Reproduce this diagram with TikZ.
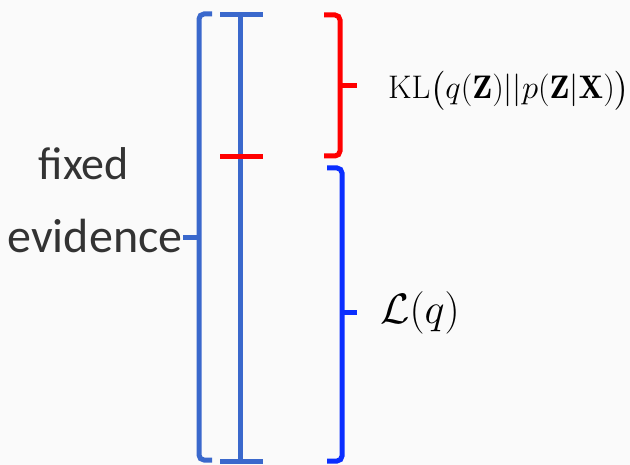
\documentclass[tikz,border=0pt]{standalone}
\usepackage{fontspec}
\usepackage{amsmath}
\newfontfamily\calib{Carlito}
\definecolor{bgc}{HTML}{FAFAFA}
\definecolor{bblue}{HTML}{3A68CC}
\definecolor{pblue}{HTML}{0A2EFF}
\definecolor{pred}{HTML}{FF0000}
\definecolor{txt}{HTML}{333333}
\begin{document}
\begin{tikzpicture}[x=1pt,y=-1pt,
  bar/.style={line width=5pt},
  brk/.style={line width=5pt, rounded corners=5pt},
  lbl/.style={inner sep=0pt, anchor=base}]
\fill[bgc] (0,0) rectangle (630,465);
\useasboundingbox (0,0) rectangle (630,465);
% left evidence bracket
\coordinate (lbt) at (212,14);
\coordinate (lbb) at (212,460);
\coordinate (lbm) at (183,238);
\draw[brk,bblue] (lbt) -- (199,14) -- (199,460) -- (lbb);
\draw[bar,bblue] (lbm) -- (199,238);
% I-beam
\coordinate (it) at (240,15);
\coordinate (ib) at (240,461);
\draw[bar,bblue] (220,15) -- (263,15);
\draw[bar,bblue] (220,461) -- (263,461);
\draw[bar,bblue] (it) -- (ib);
\draw[bar,pred] (220,157) -- (263,157);
% red brace
\coordinate (rbt) at (324,15);
\coordinate (rbb) at (324,156);
\coordinate (rbm) at (357,86);
\draw[brk,pred] (rbt) -- (340,15) -- (340,156) -- (rbb);
\draw[bar,pred] (340,86) -- (rbm);
% blue brace
\coordinate (bbt) at (327,168);
\coordinate (bbb) at (327,461);
\coordinate (bbm) at (357,313);
\draw[brk,pblue] (bbt) -- (342,168) -- (342,461) -- (bbb);
\draw[bar,pblue] (342,313) -- (bbm);
% labels
\node[lbl,txt] (fixed) at (84,180) {\calib\fontsize{46}{50}\selectfont fixed};
\node[lbl,txt] (evid) at (95,253) {\calib\fontsize{48}{52}\selectfont evidence};
\node[lbl,anchor=base west] (kl) at (388,99) {\scalebox{1.575}{\fontsize{20.74}{24}\selectfont $\mathrm{KL}\big(q(\mathbf{Z})||p(\mathbf{Z}|\mathbf{X})\big)$}};
\node[lbl,anchor=base west] (lq) at (380,324) {\scalebox{1.71}{\fontsize{24.88}{28}\selectfont $\mathcal{L}(q)$}};
\end{tikzpicture}
\end{document}
